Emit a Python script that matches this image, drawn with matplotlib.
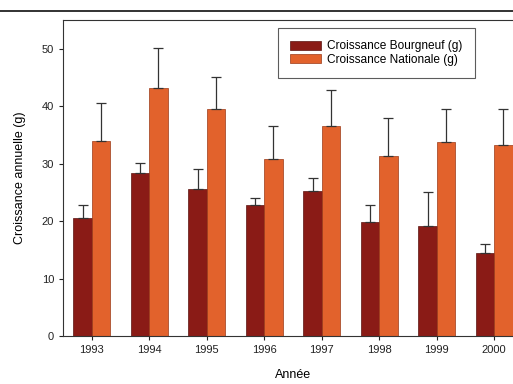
import numpy as np
import matplotlib
matplotlib.use('Agg')
import matplotlib.pyplot as plt

plt.rcParams['font.family'] = ['Liberation Sans', 'DejaVu Sans']

years = ['1993', '1994', '1995', '1996', '1997', '1998', '1999', '2000']
bourgneuf = [20.6, 28.4, 25.6, 22.8, 25.3, 19.9, 19.2, 14.4]
bourgneuf_err = [2.2, 1.7, 3.5, 1.2, 2.2, 2.9, 5.8, 1.6]
nationale = [34.0, 43.2, 39.5, 30.8, 36.5, 31.4, 33.7, 33.3]
nationale_err = [6.6, 6.9, 5.5, 5.7, 6.4, 6.5, 5.8, 6.2]

col_b = '#8a1b16'
col_n = '#e2622c'

fig = plt.figure(figsize=(5.13, 3.84), dpi=100)
ax = fig.add_axes([63 / 513, 48 / 384, 460 / 513, 316 / 384])

x = np.arange(len(years))
w = 0.32
# only the upper half of each error bar is drawn
ax.bar(x - w / 2, bourgneuf, w, color=col_b, edgecolor='#5a1410', linewidth=0.5,
       yerr=[np.zeros(len(x)), bourgneuf_err], capsize=3.5,
       error_kw=dict(ecolor='#333333', elinewidth=0.9, capthick=0.9),
       label='Croissance Bourgneuf (g)')
ax.bar(x + w / 2, nationale, w, color=col_n, edgecolor='#9a3a18', linewidth=0.5,
       yerr=[np.zeros(len(x)), nationale_err], capsize=3.5,
       error_kw=dict(ecolor='#333333', elinewidth=0.9, capthick=0.9),
       label='Croissance Nationale (g)')

ax.set_xlim(-0.5, 7.5)
ax.set_ylim(0, 55)
ax.set_yticks([0, 10, 20, 30, 40, 50])
ax.set_xticks(x)
ax.set_xticklabels(years)
ax.tick_params(labelsize=8, length=3, width=0.8, colors='#222222')
for s in ax.spines.values():
    s.set_linewidth(0.8)
    s.set_color('#333333')

ax.set_ylabel('Croissance annuelle (g)', fontsize=9, labelpad=11)
ax.set_xlabel('Année', fontsize=9, labelpad=10)

leg = ax.legend(loc='upper left', bbox_to_anchor=(0.467, 0.975), fontsize=8.6,
                frameon=True, fancybox=False, handlelength=2.6, handleheight=0.8,
                handletextpad=0.5, borderpad=1.05, labelspacing=0.1, borderaxespad=0)
leg.get_frame().set_edgecolor('#333333')
leg.get_frame().set_linewidth(0.8)

# page rule above the figure
fig.add_artist(plt.Line2D([0, 1], [1 - 11 / 384, 1 - 11 / 384], color='#222222', linewidth=1.3))

fig.savefig('out.png', dpi=100)
